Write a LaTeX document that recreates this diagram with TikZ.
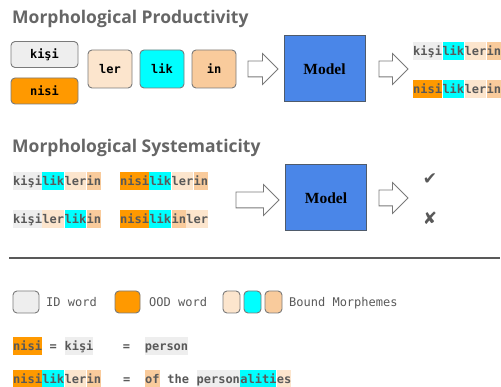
\documentclass[tikz,border=0pt]{standalone}
\usepackage{fontspec}
\setmainfont{Liberation Serif}
\newfontfamily\titlefont{Open Sans}
\newfontfamily\monofont{DejaVu Sans Mono}
\newfontfamily\symfont{DejaVu Sans}
\usetikzlibrary{shapes.arrows, positioning}
\definecolor{idgrey}{HTML}{EEEEEE}
\definecolor{oodorange}{HTML}{FF9900}
\definecolor{lightpeach}{HTML}{FCE5CD}
\definecolor{boundcyan}{HTML}{00FFFF}
\definecolor{peach}{HTML}{F9CB9C}
\definecolor{modelblue}{HTML}{4A86E8}
\definecolor{modeledge}{HTML}{4F5B6B}
\definecolor{txtgrey}{HTML}{595959}
\definecolor{titlegrey}{HTML}{666666}
\definecolor{boxgrey}{HTML}{7A7A7A}
\newcommand{\mfont}{\monofont\bfseries\fontsize{12}{14}\selectfont}
% one blank character cell of the mono font
\newcommand{\blank}{\phantom{x}}
\tikzset{%
	morph/.style={
		inner sep=0pt,
		text height=13.5pt,
		text depth=4.5pt,
		text=txtgrey,
		font=\mfont,
		anchor=base west
	},
	title/.style={
		anchor=base west,
		inner sep=0pt,
		text=titlegrey,
		font=\titlefont\bfseries\fontsize{17.5}{20}\selectfont
	},
	wordbox/.style={
		draw=boxgrey,
		line width=0.9pt,
		rounded corners=4pt,
		minimum width=67pt,
		minimum height=26pt,
		font=\mfont
	},
	suffixbox/.style={
		wordbox,
		minimum width=44pt,
		minimum height=38pt
	},
	keybox/.style={
		draw=boxgrey,
		line width=0.9pt,
		rounded corners=4pt,
		minimum height=22pt,
		inner sep=0pt
	},
	model/.style={
		draw=modeledge,
		fill=modelblue,
		line width=1pt,
		minimum width=81pt,
		minimum height=66pt,
		font=\bfseries\fontsize{15.5}{15}\selectfont
	},
	hollow/.style={
		single arrow,
		draw=boxgrey,
		fill=white,
		line width=0.8pt,
		inner xsep=0pt,
		inner ysep=7.5pt,
		minimum height=#1,
		single arrow head extend=7.5pt
	},
	legend/.style={
		anchor=base west,
		inner sep=0pt,
		text=txtgrey,
		font=\monofont\fontsize{12}{14}\selectfont
	},
	verdict/.style={
		text=txtgrey,
		font=\symfont\fontsize{17}{17}\selectfont
	}
}

\begin{document}
\begin{tikzpicture}[x=1pt, y=-1pt]
	\useasboundingbox (0,0) rectangle (501,387);

	% Morphological Productivity
	\node[title] (t1) at (12,24) {Morphological Productivity};
	\node[wordbox, fill=idgrey] (kisi) at (44.5,54.5) {kişi};
	\node[wordbox, fill=oodorange] (nisi) at (44.5,91) {nisi};
	\node[suffixbox, fill=lightpeach] (ler) at (110,69) {ler};
	\node[suffixbox, fill=boundcyan] (lik) at (162,69) {lik};
	\node[suffixbox, fill=peach] (in) at (214,69) {in};
	\node[hollow=30pt] (ar1) at (259,69) {};
	\node[model] (m1) at (324.5,69) {Model};
	\node[hollow=29pt] (ar2) at (389.5,69) {};

	% outputs
	\node[morph, fill=idgrey] (pa1) at (413,56) {kişi};
	\node[morph, fill=boundcyan] (pa2) at (pa1.base east) {lik};
	\node[morph, fill=lightpeach] (pa3) at (pa2.base east) {ler};
	\node[morph, fill=peach] (pa4) at (pa3.base east) {in};
	\node[morph, fill=oodorange] (pb1) at (413,94) {nisi};
	\node[morph, fill=boundcyan] (pb2) at (pb1.base east) {lik};
	\node[morph, fill=lightpeach] (pb3) at (pb2.base east) {ler};
	\node[morph, fill=peach] (pb4) at (pb3.base east) {in};

	% Morphological Systematicity
	\node[title] (t2) at (12,153) {Morphological Systematicity};
	\node[morph, fill=idgrey] (sa1) at (13,186) {kişi};
	\node[morph, fill=boundcyan] (sa2) at (sa1.base east) {lik};
	\node[morph, fill=lightpeach] (sa3) at (sa2.base east) {ler};
	\node[morph, fill=peach] (sa4) at (sa3.base east) {in};
	\node[morph, fill=oodorange] (sb1) at (120,186) {nisi};
	\node[morph, fill=boundcyan] (sb2) at (sb1.base east) {lik};
	\node[morph, fill=lightpeach] (sb3) at (sb2.base east) {ler};
	\node[morph, fill=peach] (sb4) at (sb3.base east) {in};
	\node[morph, fill=idgrey] (sc1) at (13,224) {kişi};
	\node[morph, fill=lightpeach] (sc2) at (sc1.base east) {ler};
	\node[morph, fill=boundcyan] (sc3) at (sc2.base east) {lik};
	\node[morph, fill=peach] (sc4) at (sc3.base east) {in};
	\node[morph, fill=oodorange] (sd1) at (120,224) {nisi};
	\node[morph, fill=boundcyan] (sd2) at (sd1.base east) {lik};
	\node[morph, fill=peach] (sd3) at (sd2.base east) {in};
	\node[morph, fill=lightpeach] (sd4) at (sd3.base east) {ler};
	\node[hollow=43pt] (ar3) at (253.5,200) {};
	\node[model] (m2) at (326,198) {Model};
	\node[hollow=29pt] (ar4) at (389.5,198) {};
	\node[verdict] (ok) at (430,179) {✔};
	\node[verdict] (bad) at (430,218) {✘};

	\draw[line width=1.2pt, draw=txtgrey] (9,258) -- (500,258);

	% legend
	\node[keybox, fill=idgrey, minimum width=26pt] (kid) at (26,302) {};
	\node[legend] (lid) at (46,307) {ID word};
	\node[keybox, fill=oodorange, minimum width=25pt] (kood) at (127.5,302) {};
	\node[legend] (lood) at (149,307) {OOD word};
	\node[keybox, fill=lightpeach, minimum width=17pt] (kb1) at (231.5,302) {};
	\node[keybox, fill=boundcyan, minimum width=17pt] (kb2) at (252.5,302) {};
	\node[keybox, fill=peach, minimum width=17pt] (kb3) at (273.5,302) {};
	\node[legend] (lbound) at (289,307) {Bound Morphemes};

	% examples
	\node[morph, fill=oodorange] (ea1) at (13,351) {nisi};
	\node[morph] (ea2) at (ea1.base east) {\blank=\blank};
	\node[morph, fill=idgrey] (ea3) at (ea2.base east) {kişi};
	\node[morph] (ea4) at (ea3.base east) {\blank\blank\blank\blank=\blank\blank};
	\node[morph, fill=idgrey] (ea5) at (ea4.base east) {person};
	\node[morph, fill=oodorange] (eb1) at (13,384) {nisi};
	\node[morph, fill=boundcyan] (eb2) at (eb1.base east) {lik};
	\node[morph, fill=lightpeach] (eb3) at (eb2.base east) {ler};
	\node[morph, fill=peach] (eb4) at (eb3.base east) {in};
	\node[morph] (eb5) at (eb4.base east) {\blank\blank\blank=\blank\blank};
	\node[morph, fill=peach] (eb6) at (eb5.base east) {of};
	\node[morph] (eb7) at (eb6.base east) {\blank the\blank};
	\node[morph, fill=idgrey] (eb8) at (eb7.base east) {person};
	\node[morph, fill=boundcyan] (eb9) at (eb8.base east) {aliti};
	\node[morph, fill=lightpeach] (eb10) at (eb9.base east) {es};
\end{tikzpicture}
\end{document}
